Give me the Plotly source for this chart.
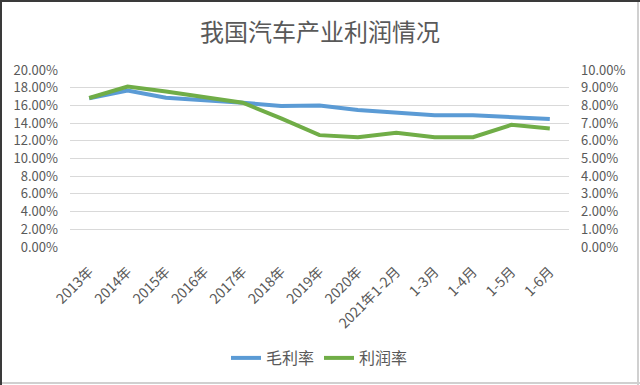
import plotly.graph_objects as go

categories = ["2013年", "2014年", "2015年", "2016年", "2017年", "2018年", "2019年",
              "2020年", "2021年1-2月", "1-3月", "1-4月", "1-5月", "1-6月"]
gross_margin = [0.168, 0.1767, 0.1687, 0.166, 0.163, 0.1593, 0.160,
                0.1548, 0.1522, 0.1488, 0.1488, 0.1465, 0.1446]
profit_margin = [0.0842, 0.0906, 0.0878, 0.0845, 0.0815, 0.0727, 0.0632,
                 0.062, 0.0645, 0.062, 0.062, 0.069, 0.067]

FONT = "Noto Sans CJK SC"
GRAY = "#595959"
W, H = 640, 385
L, R, T, B = 70, 71, 70, 138
PW, PH = W - L - R, H - T - B

fig = go.Figure()
fig.add_trace(go.Scatter(x=categories, y=gross_margin, name="毛利率", mode="lines",
                         line=dict(color="#5B9BD5", width=4), yaxis="y"))
fig.add_trace(go.Scatter(x=categories, y=profit_margin, name="利润率", mode="lines",
                         line=dict(color="#70AD47", width=4), yaxis="y2"))

fig.update_layout(
    width=W, height=H,
    margin=dict(l=L, r=R, t=T, b=B, autoexpand=False),
    paper_bgcolor="white", plot_bgcolor="white",
    font=dict(family=FONT, color=GRAY, size=13),
    title=dict(text="我国汽车产业利润情况", x=0.5, xanchor="center", y=1 - 33 / H, yanchor="middle",
               automargin=False, font=dict(family=FONT, size=24, color=GRAY)),
    xaxis=dict(tickangle=-45, showgrid=False, zeroline=False, showline=False,
               range=[-0.5, len(categories) - 0.5], automargin=False,
               ticklabelstandoff=13,
               tickfont=dict(size=14, color=GRAY), ticks=""),
    yaxis=dict(range=[0, 0.2], dtick=0.02, tickformat=".2%", showgrid=True,
               gridcolor="#D9D9D9", gridwidth=1, zeroline=False, showline=False,
               automargin=False, ticklabelstandoff=11, tickfont=dict(size=13, color=GRAY)),
    yaxis2=dict(range=[0, 0.1], dtick=0.01, tickformat=".2%", overlaying="y", side="right",
                showgrid=False, zeroline=False, showline=False, automargin=False,
                ticklabelstandoff=11, tickfont=dict(size=13, color=GRAY)),
    legend=dict(orientation="h", x=0.5, xanchor="center", yref="container", y=1 - 358 / H,
                yanchor="middle", font=dict(size=16, color=GRAY), itemwidth=30),
    showlegend=True,
)


def px_x(px):
    return (px - L) / PW


def px_y(py):
    return (H - B - py) / PH


# chart frame
fig.add_shape(type="line", xref="paper", yref="paper", x0=px_x(0), x1=px_x(W),
              y0=px_y(1), y1=px_y(1), line=dict(color="#3A3A3A", width=2))
fig.add_shape(type="line", xref="paper", yref="paper", x0=px_x(1), x1=px_x(1),
              y0=px_y(0), y1=px_y(H), line=dict(color="#3A3A3A", width=2))
fig.add_shape(type="line", xref="paper", yref="paper", x0=px_x(638), x1=px_x(638),
              y0=px_y(2), y1=px_y(H), line=dict(color="#D0D0D0", width=2))
fig.add_shape(type="line", xref="paper", yref="paper", x0=px_x(2), x1=px_x(W),
              y0=px_y(383), y1=px_y(383), line=dict(color="#D0D0D0", width=2))

fig.write_html("out.html", config={"displayModeBar": False},
               post_script="document.body.style.margin='0';")
